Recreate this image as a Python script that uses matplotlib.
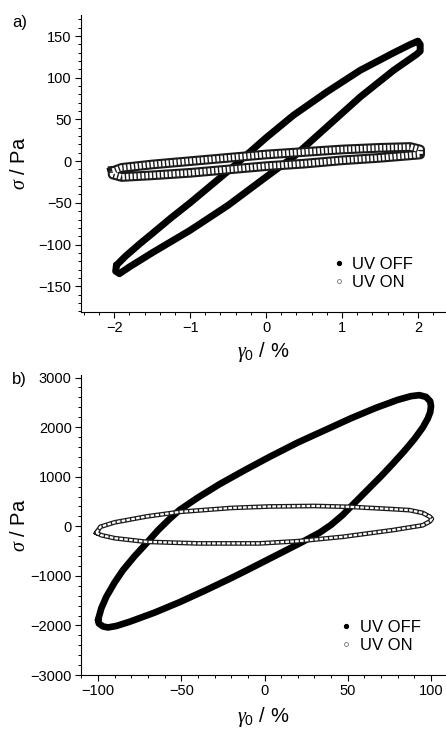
import numpy as np
import matplotlib
matplotlib.use("Agg")
from matplotlib import pyplot as plt
from matplotlib.lines import Line2D
from matplotlib.ticker import MultipleLocator, AutoMinorLocator

plt.rcParams['font.family'] = ['Liberation Sans', 'DejaVu Sans']
plt.rcParams['font.size'] = 10.5
plt.rcParams['mathtext.fontset'] = 'custom'
plt.rcParams['mathtext.rm'] = 'Liberation Sans'
plt.rcParams['mathtext.it'] = 'Liberation Serif:italic'

# %% Data (loops are closed: first point repeated at the end)
# a) small strain, gamma0 = 2 %
a_off_x = [-1.97, -1.85, -1.66, -1.5, -1.25, -1.0, -0.75, -0.5, -0.25, 0.0, 0.36, 0.8, 1.24, 1.68, 1.9, 2.0,
           2.03, 2.03, 1.98, 1.68, 1.24, 0.8, 0.36, 0.0, -0.5, -1.0, -1.5, -1.8, -1.93, -1.98, -1.97]
a_off_y = [-125, -114, -99, -87, -68, -50, -31, -12, 8, 28, 55, 83, 109, 130, 140, 144,
           140, 132, 128, 109, 77, 41, 5, -19, -53, -83, -110, -127, -135, -132, -125]

a_on_x = [-2.02, -1.9, -1.5, -1.0, -0.5, 0.0, 0.5, 1.0, 1.5, 1.9, 2.03,
          2.03, 1.9, 1.5, 1.0, 0.5, 0.0, -0.5, -1.0, -1.5, -1.9, -2.02, -2.02]
a_on_y = [-12, -8, -4, 0, 4, 8, 11, 14, 16, 17, 14,
          8, 7, 4, 1, -3, -6, -10, -14, -17, -19, -16, -12]

# b) large strain, gamma0 = 100 %
b_off_x = [-100, -98, -95, -90, -85, -78, -71, -64, -57, -51, -40, -27, -12, 3, 20, 37, 52, 67, 80, 88, 93, 97,
           99.5, 100, 99.5, 98, 95, 90, 84, 77, 70, 62, 54, 47, 40, 33, 23, 12, 0, -12, -21, -36, -51, -66,
           -81, -89, -94, -97, -99.5, -100]
b_off_y = [-1890, -1650, -1420, -1130, -883, -600, -345, -80, 150, 330, 580, 850, 1130, 1400, 1690, 1950, 2180,
           2390, 2550, 2625, 2645, 2610, 2520, 2420, 2300, 2170, 1990, 1760, 1520, 1260, 1010, 740, 470,
           230, 30, -130, -310, -500, -705, -910, -1060, -1300, -1530, -1740, -1925, -2010, -2040, -2020,
           -1960, -1890]

b_on_x = [-101, -98.6, -90, -70.6, -50.6, -20, 3, 30, 51, 75, 87, 95, 99.4, 100.5, 99.4, 95, 77, 47, 20, -3,
          -40, -71, -90, -98, -101]
b_on_y = [-131, -10, 80, 200, 292, 370, 400, 410, 393, 350, 326, 270, 191, 150, 100, 20, -77, -212, -300,
          -345, -345, -313, -240, -180, -131]

labels = ["UV OFF", "UV ON"]


def draw_loops(ax, off_x, off_y, on_x, on_y, off_lw, on_lw, on_inner, dash):
    ax.plot(off_x, off_y, color='k', lw=off_lw, solid_joinstyle='round', solid_capstyle='round')
    # chain of open circles: dark outline with a broken white core
    ax.plot(on_x, on_y, color='0.1', lw=on_lw, solid_joinstyle='round')
    ax.plot(on_x, on_y, color='white', lw=on_inner, ls=(0, dash), dash_joinstyle='round')


def style_axes(ax, panel, panel_y, xlim, ylim, xmajor, ymajor, xlab_y, legend_anchor):
    ax.set_xlim(*xlim)
    ax.set_ylim(*ylim)
    ax.xaxis.set_major_locator(MultipleLocator(xmajor))
    ax.yaxis.set_major_locator(MultipleLocator(ymajor))
    ax.xaxis.set_minor_locator(AutoMinorLocator(5))
    ax.yaxis.set_minor_locator(AutoMinorLocator(5))
    ax.spines['top'].set_visible(False)
    ax.spines['right'].set_visible(False)
    for s in ('left', 'bottom'):
        ax.spines[s].set_linewidth(0.8)
    ax.tick_params(which='major', direction='out', length=4, width=0.8, labelsize=10.5, pad=2.5)
    ax.tick_params(which='minor', direction='out', length=2, width=0.7)
    ax.set_xlabel(r'$\gamma_0$ / %', fontsize=14.5)
    ax.set_ylabel(r'$\sigma$ / Pa', fontsize=14.5)
    ax.yaxis.set_label_coords(-0.142, 0.5)
    ax.xaxis.set_label_coords(0.5, xlab_y)
    ax.text(-0.147, panel_y, panel, transform=ax.transAxes, fontsize=12, va='top', ha='right')

    handles = [Line2D([], [], ls='none', marker='o', ms=2.8, color='k'),
               Line2D([], [], ls='none', marker='o', ms=2.8, mfc='white', mec='0.45', mew=0.6)]
    ax.legend(handles, labels, loc='lower right', bbox_to_anchor=legend_anchor, frameon=False,
              fontsize=12, handlelength=0.6, handletextpad=0.5, labelspacing=0.15,
              borderpad=0, borderaxespad=0)


fig = plt.figure(figsize=(4.46, 7.29), dpi=100)
ax_a = fig.add_axes([0.181, 0.572, 0.819, 0.407])
ax_b = fig.add_axes([0.181, 0.074, 0.819, 0.4115])

draw_loops(ax_a, a_off_x, a_off_y, a_on_x, a_on_y, 5.0, 7.0, 4.0, (0.45, 0.25))
style_axes(ax_a, 'a)', 1.0, (-2.44, 2.37), (-181, 175), 1, 50, -0.093, (0.91, 0.075))

draw_loops(ax_b, b_off_x, b_off_y, b_on_x, b_on_y, 4.8, 3.4, 1.6, (1.6, 0.6))
style_axes(ax_b, 'b)', 1.01, (-110.4, 109), (-3000, 3050), 50, 1000, -0.1, (0.93, 0.075))

plt.savefig("out.png", dpi=100)
